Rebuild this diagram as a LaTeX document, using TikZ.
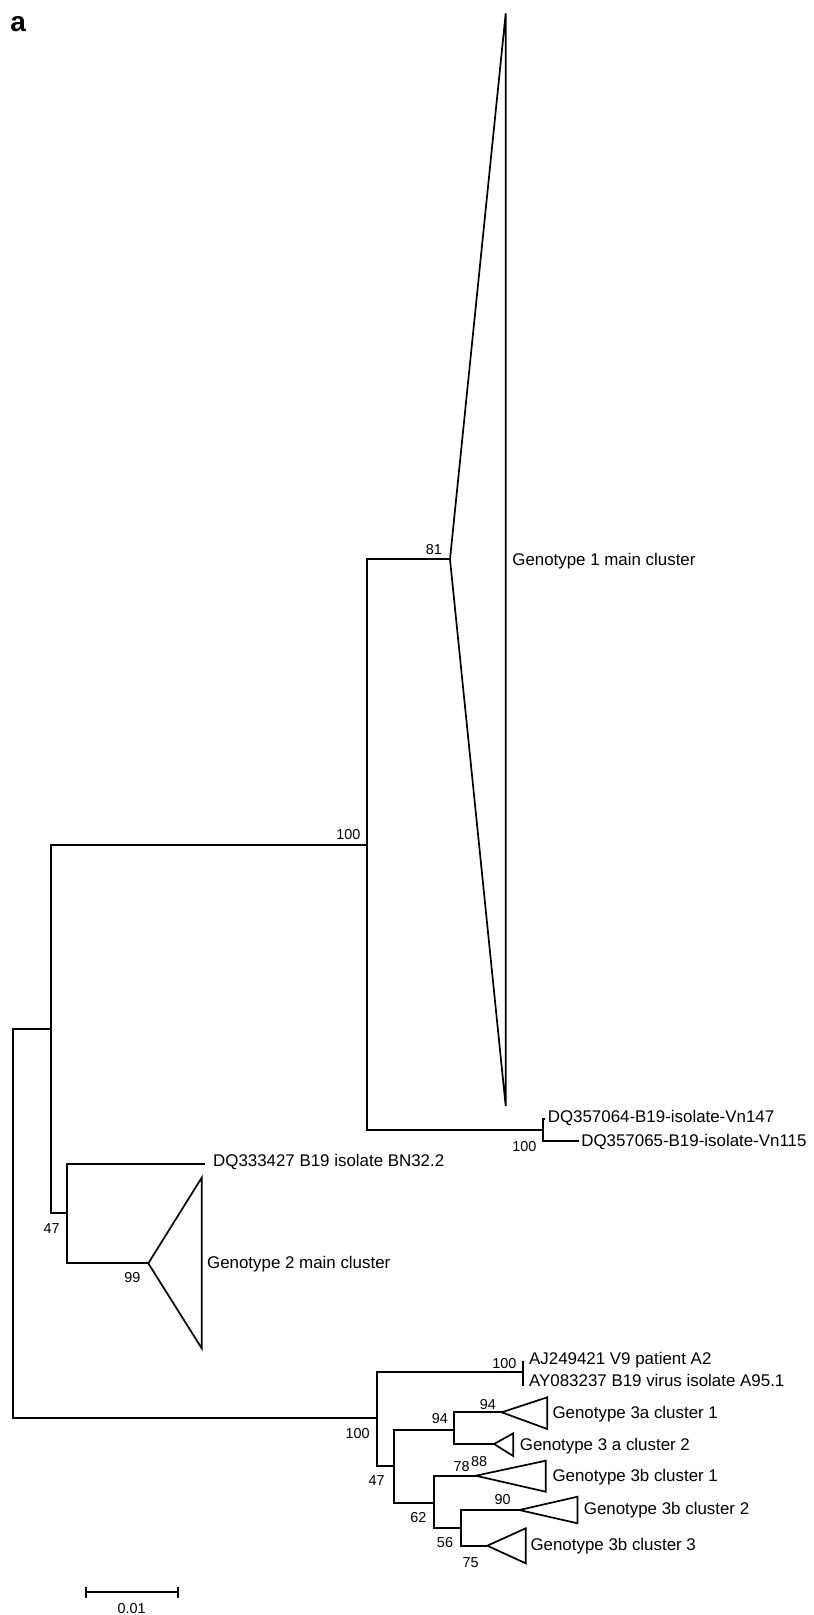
\documentclass[tikz,border=0pt]{standalone}
\usepackage{fontspec}
\setmainfont{Liberation Sans}
\begin{document}
\begin{tikzpicture}[x=1pt,y=-1pt,line width=1.7pt,
  leaf/.style={anchor=base west,inner sep=0pt,font=\fontsize{16.9}{18}\selectfont},
  boot/.style={anchor=base east,inner sep=0pt,font=\fontsize{14.4}{16}\selectfont},
  bootc/.style={anchor=base,inner sep=0pt,font=\fontsize{14.4}{16}\selectfont},
  bootw/.style={anchor=base west,inner sep=0pt,font=\fontsize{14.4}{16}\selectfont},
  clade/.style={line join=miter}]
\useasboundingbox (0,0) rectangle (814,1615);
% panel letter
\node[anchor=base west,inner sep=0pt,font=\fontsize{28}{30}\selectfont\bfseries] (panel) at (9.5,31) {a};
% internal nodes
\coordinate (R) at (12.7,1223.5);
\coordinate (A) at (50.7,1029);
\coordinate (B) at (366.7,845);
\coordinate (J) at (543.3,1130);
\coordinate (C) at (66.7,1212.7);
\coordinate (D) at (376.7,1418);
\coordinate (E) at (394,1466);
\coordinate (F) at (454,1430);
\coordinate (G) at (434,1502.7);
\coordinate (H) at (460.7,1527.7);
% leaves / clade apices
\coordinate (G1) at (450,559.3);
\coordinate (G1t) at (505.7,13.3);
\coordinate (G1b) at (505.7,1106);
\coordinate (J1) at (545,1119.3);
\coordinate (J2) at (579.3,1140.7);
\coordinate (L333) at (205,1164.3);
\coordinate (G2) at (148.3,1263.3);
\coordinate (G2t) at (201.7,1177.7);
\coordinate (G2b) at (201.7,1348.3);
\coordinate (K) at (523.3,1372);
\coordinate (K1) at (523.3,1361);
\coordinate (K2) at (523.3,1386);
\coordinate (T1) at (501.7,1412.3);
\coordinate (T1t) at (547.3,1397.3);
\coordinate (T1b) at (547.3,1429);
\coordinate (T2) at (494,1444);
\coordinate (T2t) at (513.3,1433.3);
\coordinate (T2b) at (513.3,1456);
\coordinate (T3) at (475.7,1475.7);
\coordinate (T3t) at (545.7,1460.7);
\coordinate (T3b) at (545.7,1491.7);
\coordinate (T4) at (519.3,1510);
\coordinate (T4t) at (577.5,1496.7);
\coordinate (T4b) at (577.5,1523.3);
\coordinate (T5) at (487.3,1545.7);
\coordinate (T5t) at (525.7,1528.3);
\coordinate (T5b) at (525.7,1563.3);
% branches
\draw (R) |- (A);
\draw (R) |- (D);
\draw (A) |- (B);
\draw (A) |- (C);
\draw (B) |- (G1);
\draw (B) |- (J);
\draw (J) |- (J1);
\draw (J) |- (J2);
\draw (C) |- (L333);
\draw (C) |- (G2);
\draw (D) |- (K);
\draw (K1) -- (K2);
\draw (D) |- (E);
\draw (E) |- (F);
\draw (E) |- (G);
\draw (F) |- (T1);
\draw (F) |- (T2);
\draw (G) |- (T3);
\draw (G) |- (H);
\draw (H) |- (T4);
\draw (H) |- (T5);
% collapsed clades
\draw[clade] (G1) -- (G1t) -- (G1b) -- cycle;
\draw[clade] (G2) -- (G2t) -- (G2b) -- cycle;
\draw[clade] (T1) -- (T1t) -- (T1b) -- cycle;
\draw[clade] (T2) -- (T2t) -- (T2b) -- cycle;
\draw[clade] (T3) -- (T3t) -- (T3b) -- cycle;
\draw[clade] (T4) -- (T4t) -- (T4b) -- cycle;
\draw[clade] (T5) -- (T5t) -- (T5b) -- cycle;
% leaf labels
\node[leaf] (lg1) at (511.5,565) {Genotype 1 main cluster};
\node[leaf] (l147) at (547,1122) {DQ357064-B19-isolate-Vn147};
\node[leaf] (l115) at (580.5,1146.5) {DQ357065-B19-isolate-Vn115};
\node[leaf] (l333) at (212.3,1166.5) {DQ333427 B19 isolate BN32.2};
\node[leaf] (lg2) at (206.3,1268) {Genotype 2 main cluster};
\node[leaf] (laj) at (528.3,1364) {AJ249421 V9 patient A2};
\node[leaf] (lay) at (528.3,1386) {AY083237 B19 virus isolate A95.1};
\node[leaf] (l3a1) at (551.7,1418.7) {Genotype 3a cluster 1};
\node[leaf] (l3a2) at (519,1450) {Genotype 3 a cluster 2};
\node[leaf] (l3b1) at (551.7,1481.7) {Genotype 3b cluster 1};
\node[leaf] (l3b2) at (583,1514) {Genotype 3b cluster 2};
\node[leaf] (l3b3) at (529.7,1550) {Genotype 3b cluster 3};
% bootstrap values
\node[boot] (b81) at (442.8,554.3) {81};
\node[boot] (bB) at (361.2,839.3) {100};
\node[boot] (bJ) at (537.2,1151.7) {100};
\node[bootc] (bC) at (51.7,1233.3) {47};
\node[bootc] (bG2) at (132.5,1282.7) {99};
\node[boot] (bK) at (517.2,1368.3) {100};
\node[boot] (bD) at (370.5,1438.3) {100};
\node[bootc] (bT1) at (487.8,1409) {94};
\node[boot] (bF) at (448.8,1423.3) {94};
\node[boot] (bE) at (385.5,1485) {47};
\node[bootc] (bG) at (418.3,1522.3) {62};
\node[bootc] (bH) at (445,1547.3) {56};
\node[bootc] (bT5) at (470.7,1567) {75};
\node[bootc] (bT4) at (502.7,1504) {90};
\node[boot] (bT3a) at (470.5,1471.7) {78};
\node[bootw] (bT3b) at (470.2,1466) {88};
% scale bar
\coordinate (S1) at (85.7,1592);
\coordinate (S2) at (178.3,1592);
\draw (S1) -- (S2);
\draw (S1) ++(0,-5.5) -- ++(0,11);
\draw (S2) ++(0,-5.5) -- ++(0,11);
\node[bootc] (sl) at (131.7,1613.5) {0.01};
\end{tikzpicture}
\end{document}
